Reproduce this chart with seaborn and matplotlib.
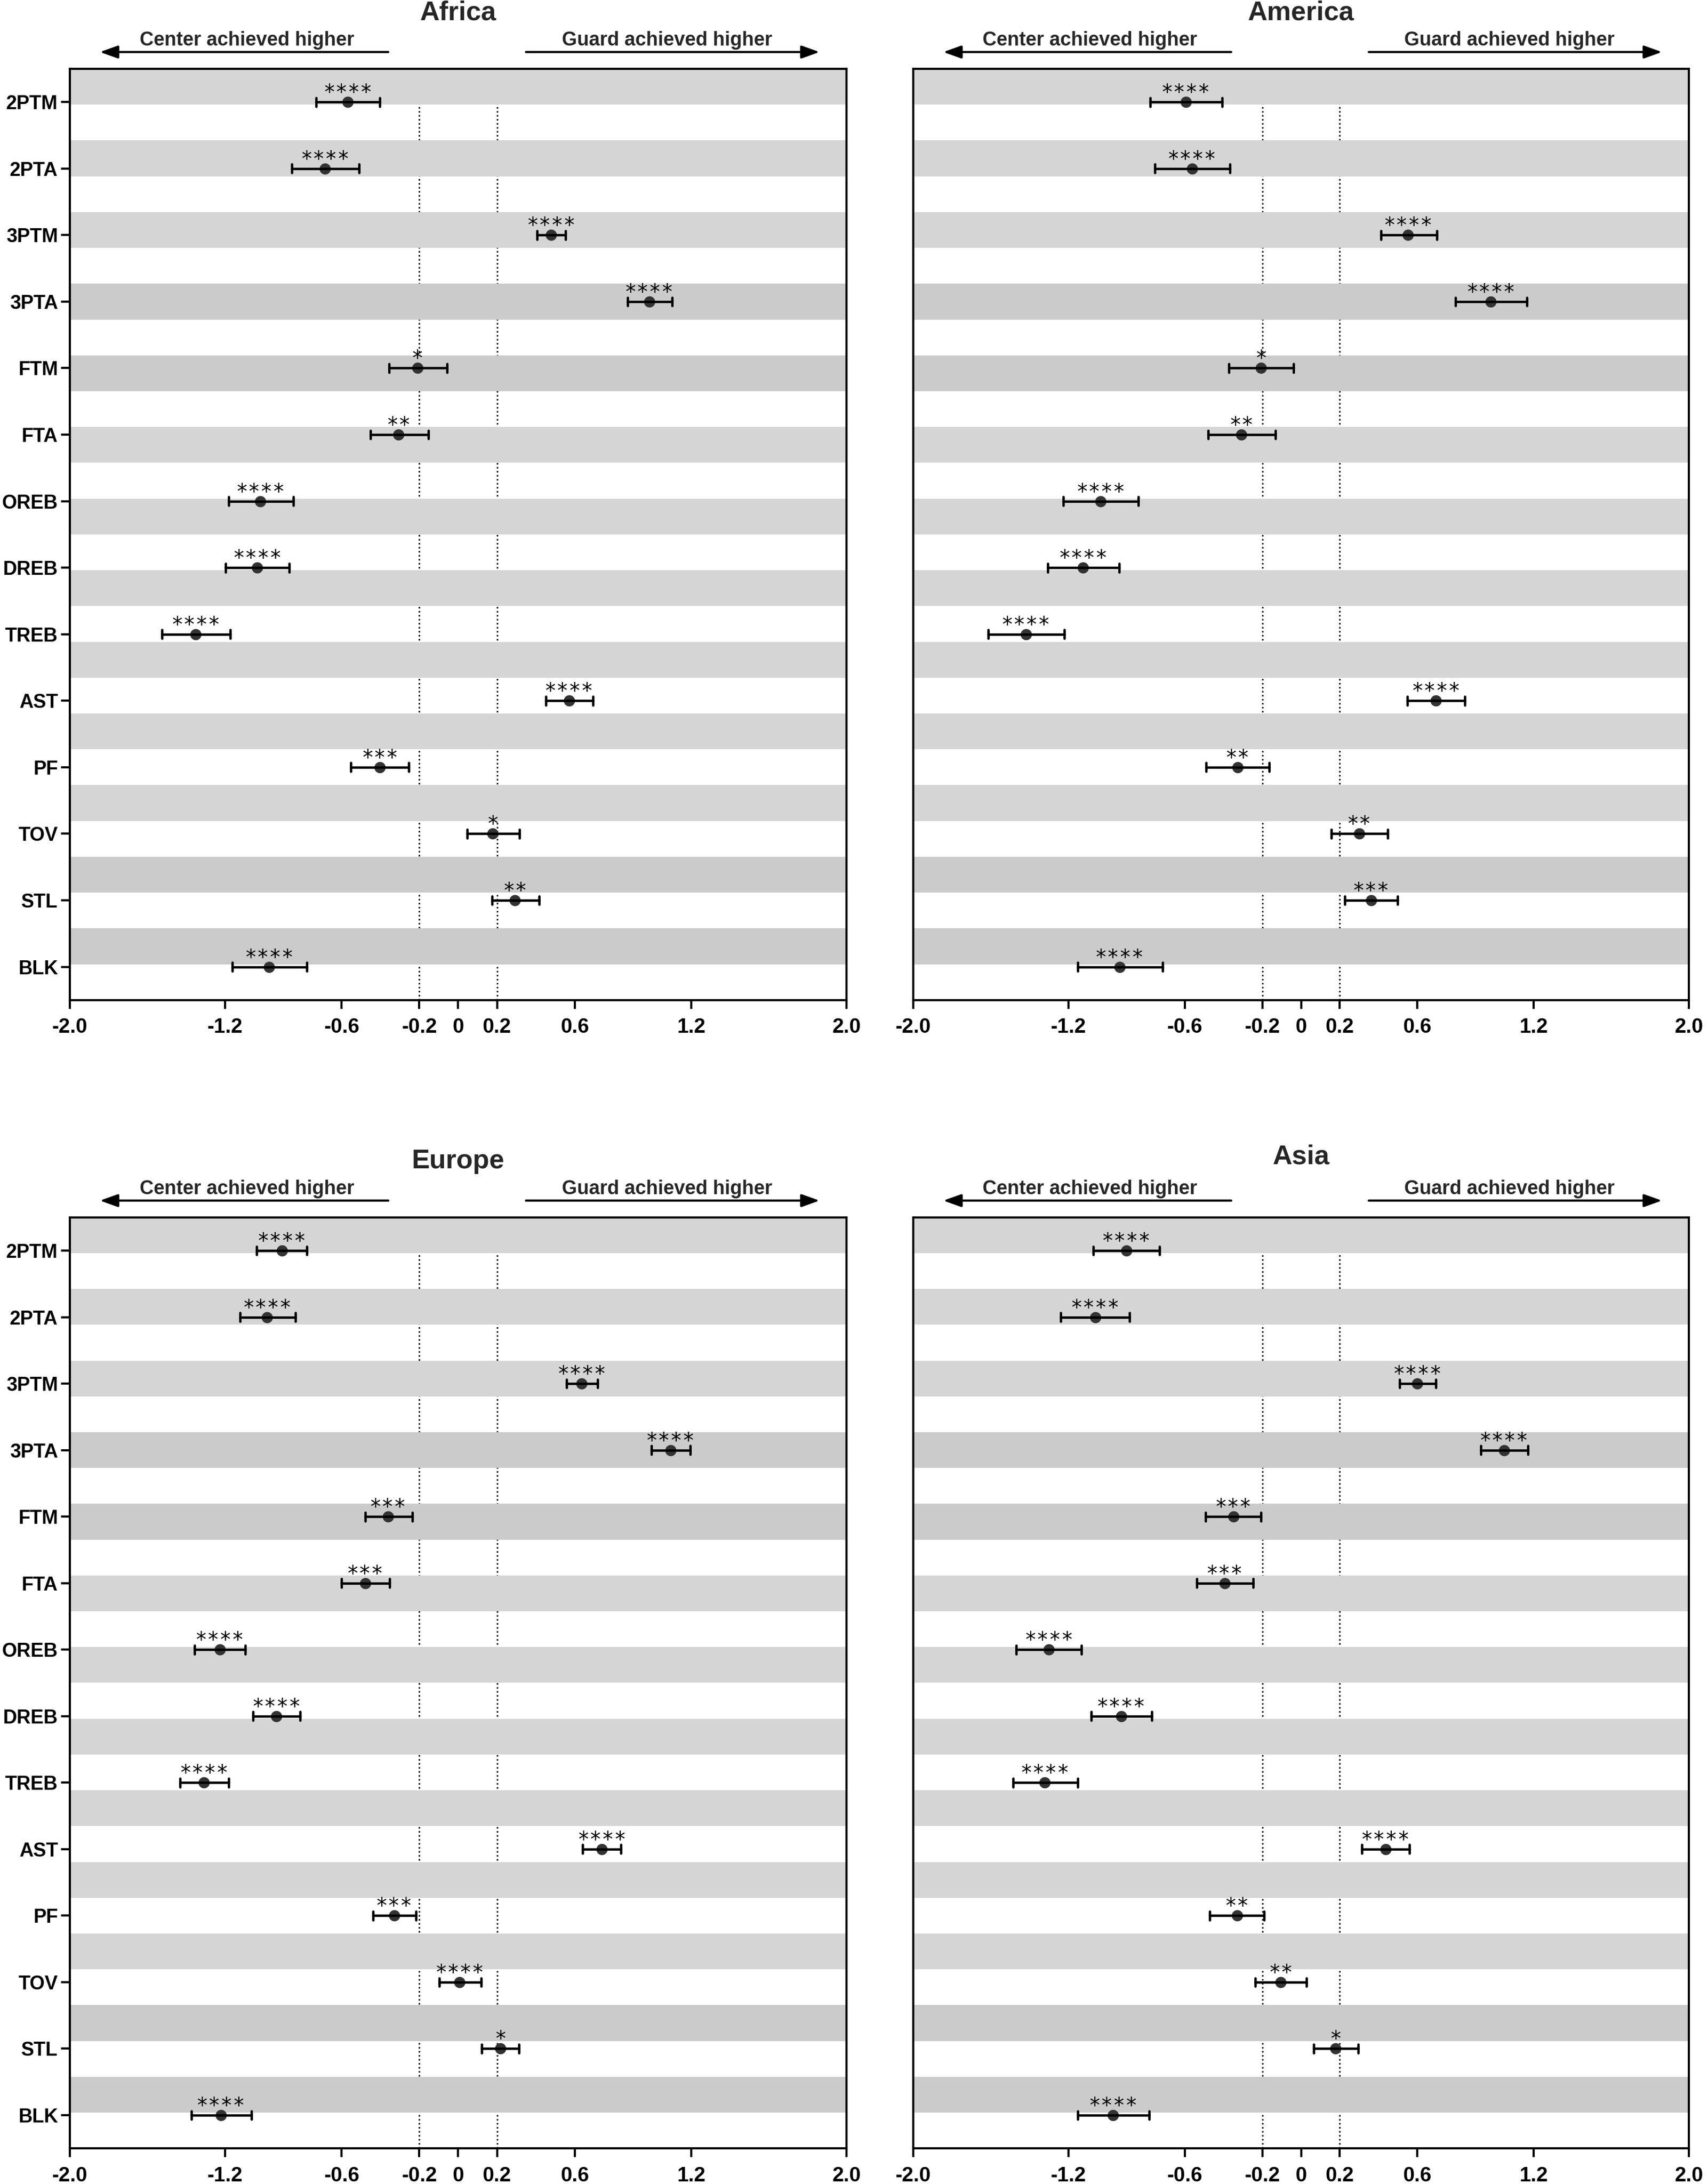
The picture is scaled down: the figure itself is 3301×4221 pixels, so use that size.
import numpy as np
import pandas as pd
import matplotlib
matplotlib.use("Agg")
import matplotlib.pyplot as plt
import seaborn as sns

# ---------------- data ----------------
stats = ["2PTM", "2PTA", "3PTM", "3PTA", "FTM", "FTA", "OREB", "DREB",
         "TREB", "AST", "PF", "TOV", "STL", "BLK"]

africa_mean = [-0.568, -0.686, 0.479, 0.984, -0.209, -0.307, -1.018, -1.034, -1.352, 0.571, -0.403, 0.178, 0.293, -0.973]
africa_low = [-0.731, -0.858, 0.406, 0.872, -0.355, -0.453, -1.183, -1.197, -1.526, 0.453, -0.552, 0.046, 0.175, -1.163]
africa_high = [-0.403, -0.509, 0.554, 1.102, -0.058, -0.153, -0.849, -0.869, -1.175, 0.695, -0.254, 0.316, 0.417, -0.779]
africa_sig = ["****", "****", "****", "****", "*", "**", "****", "****", "****", "****", "***", "*", "**", "****"]

america_mean = [-0.594, -0.563, 0.552, 0.978, -0.206, -0.307, -1.034, -1.124, -1.419, 0.695, -0.327, 0.299, 0.361, -0.936]
america_low = [-0.779, -0.754, 0.411, 0.796, -0.372, -0.479, -1.225, -1.307, -1.613, 0.549, -0.490, 0.156, 0.226, -1.152]
america_high = [-0.408, -0.366, 0.700, 1.164, -0.038, -0.133, -0.838, -0.939, -1.222, 0.844, -0.164, 0.448, 0.498, -0.714]
america_sig = ["****", "****", "****", "****", "*", "**", "****", "****", "****", "****", "**", "**", "***", "****"]

europe_mean = [-0.908, -0.984, 0.636, 1.093, -0.361, -0.479, -1.228, -0.936, -1.309, 0.740, -0.330, 0.007, 0.218, -1.222]
europe_low = [-1.037, -1.124, 0.557, 0.995, -0.479, -0.602, -1.357, -1.057, -1.433, 0.641, -0.439, -0.097, 0.122, -1.374]
europe_high = [-0.779, -0.838, 0.717, 1.194, -0.237, -0.352, -1.096, -0.815, -1.183, 0.838, -0.218, 0.119, 0.313, -1.065]
europe_sig = ["****", "****", "****", "****", "***", "***", "****", "****", "****", "****", "***", "****", "*", "****"]

asia_mean = [-0.902, -1.062, 0.599, 1.046, -0.349, -0.394, -1.301, -0.928, -1.321, 0.436, -0.330, -0.105, 0.178, -0.970]
asia_low = [-1.071, -1.239, 0.507, 0.928, -0.493, -0.538, -1.469, -1.082, -1.486, 0.313, -0.470, -0.237, 0.066, -1.152]
asia_high = [-0.731, -0.886, 0.695, 1.169, -0.206, -0.248, -1.133, -0.771, -1.152, 0.560, -0.192, 0.027, 0.296, -0.782]
asia_sig = ["****", "****", "****", "****", "***", "***", "****", "****", "****", "****", "**", "**", "*", "****"]

xtick_values = [-2.0, -1.2, -0.6, -0.2, 0.0, 0.2, 0.6, 1.2, 2.0]
xtick_labels = ["-2.0", "-1.2", "-0.6", "-0.2", "0", "0.2", "0.6", "1.2", "2.0"]
ref_lines = [-0.2, 0.2]
left_label = "Center achieved higher"
right_label = "Guard achieved higher"

# ---------------- style ----------------
sns.set_theme(style="ticks")
plt.rcParams["font.family"] = ["Liberation Sans", "DejaVu Sans"]
plt.rcParams["axes.linewidth"] = 1.0

LIGHT = "#d5d5d5"
DARK = "#cbcbcb"
dark_bands = {3, 4, 11, 12}

fig = plt.figure(figsize=(3301 / 300, 4221 / 300), dpi=300)

panels = [
    ("Africa", africa_mean, africa_low, africa_high, africa_sig, [0.0409, 0.5421, 0.4547, 0.4264], True, 1.060),
    ("America", america_mean, america_low, america_high, america_sig, [0.5347, 0.5421, 0.4541, 0.4264], False, 1.060),
    ("Europe", europe_mean, europe_low, europe_high, europe_sig, [0.0409, 0.0163, 0.4547, 0.4263], True, 1.060),
    ("Asia", asia_mean, asia_low, asia_high, asia_sig, [0.5347, 0.0163, 0.4541, 0.4263], False, 1.065),
]

for title, mean, low, high, sig, rect, show_y, ty in panels:
    ax = fig.add_axes(rect)
    df = pd.DataFrame({
        "stat": stats * 3,
        "value": list(low) + list(mean) + list(high),
    })
    sns.pointplot(
        data=df, x="value", y="stat", order=stats, orient="h",
        estimator="median", errorbar=lambda v: (v.min(), v.max()),
        linestyle="none", marker="o", markersize=4.8,
        markeredgewidth=0.4, markeredgecolor="#333333",
        color="#333333", capsize=0.13,
        err_kws={"color": "black", "linewidth": 1.1},
        ax=ax, zorder=4,
    )
    n = len(stats)
    ax.set_xlim(-2.0, 2.0)
    ax.set_ylim(n - 0.5, -0.5)

    # alternating bands (26 equal bands across the axes)
    h = n / 26.0
    for i in range(13):
        y0 = -0.5 + 2 * i * h
        ax.axhspan(y0, y0 + h, color=DARK if i in dark_bands else LIGHT,
                   zorder=0.5, lw=0)
    for xv in ref_lines:
        ax.axvline(xv, color="black", ls=":", lw=0.7, zorder=0.2)

    # significance stars
    for i, (m, s) in enumerate(zip(mean, sig)):
        ax.annotate(s, xy=(m, i), xytext=(0, 1.2), textcoords="offset points",
                    ha="center", va="baseline", fontsize=9.5,
                    family=["DejaVu Sans Mono", "DejaVu Sans"],
                    color="black", zorder=6)

    ax.set_xticks(xtick_values)
    ax.set_xticklabels(xtick_labels, fontsize=9.5, fontweight="bold")
    ax.tick_params(axis="x", length=4, width=1.0, pad=4, colors="black")
    if show_y:
        ax.set_yticks(range(n))
        ax.set_yticklabels(stats, fontsize=9, fontweight="bold")
        ax.tick_params(axis="y", length=4, width=1.0, pad=1.5, colors="black")
    else:
        ax.tick_params(axis="y", left=False, labelleft=False)
    ax.set_xlabel("")
    ax.set_ylabel("")
    for sp in ax.spines.values():
        sp.set_visible(True)
        sp.set_color("black")
        sp.set_linewidth(1.0)
        sp.set_zorder(7)

    # title and direction arrows
    ax.text(0.5, ty, title, transform=ax.transAxes, ha="center", va="center",
            fontsize=12.5, fontweight="bold")
    trans = ("data", "axes fraction")
    arrow_kw = dict(arrowstyle="-|>,head_length=0.7,head_width=0.25",
                    lw=1.0, color="black", mutation_scale=10,
                    shrinkA=0, shrinkB=0)
    ax.annotate("", xy=(-1.845, 1.018), xytext=(-0.36, 1.018),
                xycoords=trans, textcoords=trans, arrowprops=arrow_kw,
                annotation_clip=False)
    ax.annotate("", xy=(1.861, 1.018), xytext=(0.349, 1.018),
                xycoords=trans, textcoords=trans, arrowprops=arrow_kw,
                annotation_clip=False)
    ax.annotate(left_label, xy=(-1.088, 1.025), xycoords=trans,
                ha="center", va="baseline", fontsize=9, fontweight="bold",
                annotation_clip=False)
    ax.annotate(right_label, xy=(1.075, 1.025), xycoords=trans,
                ha="center", va="baseline", fontsize=9, fontweight="bold",
                annotation_clip=False)

fig.savefig("out.png", dpi=300, facecolor="white")
